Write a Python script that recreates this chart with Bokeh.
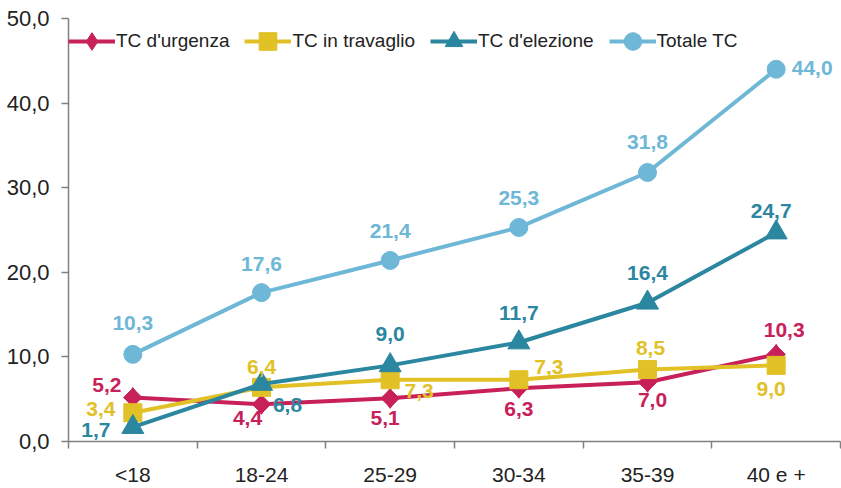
import math
from bokeh.plotting import figure
from bokeh.models import (Range1d, FixedTicker, CustomJSTickFormatter, Legend, LegendItem,
                          LabelSet, ColumnDataSource)
from bokeh.core.properties import value
from bokeh.embed import file_html
from bokeh.resources import INLINE

# ---- data ----
categories = ["<18", "18-24", "25-29", "30-34", "35-39", "40 e +"]
urgenza = [5.2, 4.4, 5.1, 6.3, 7.0, 10.3]
travaglio = [3.4, 6.4, 7.3, 7.3, 8.5, 9.0]
elezione = [1.7, 6.8, 9.0, 11.7, 16.4, 24.7]
totale = [10.3, 17.6, 21.4, 25.3, 31.8, 44.0]
y_ticks = [0, 10, 20, 30, 40, 50]

# ---- styles: label offsets in pixels (dx, dy up) ----
off_urgenza = [(-26, 13), (-14, -14), (-5, -20), (0, -21), (5, -18), (8, 24)]
off_travaglio = [(-32, 4), (0, 20), (29, -11), (30, 13), (3, 22), (-5, -24)]
off_elezione = [(-37, -3), (26, -21), (0, 31), (0, 30), (0, 30), (-5, 22)]
off_totale = [(0, 31), (0, 29), (0, 29), (0, 29), (0, 30), (36, 1)]

RED = "#C8215A"
YELLOW = "#E1C126"
TEAL = "#2B869F"
LBLUE = "#6FB7D7"
FONT = "Liberation Sans"

n = len(categories)
xs = [i + 0.5 for i in range(n)]

p = figure(width=841, height=488, output_backend="svg", toolbar_location=None,
           x_range=Range1d(0, n), y_range=Range1d(0, 50),
           min_border_left=68, min_border_right=1, min_border_top=18, min_border_bottom=45)
p.outline_line_color = None
p.xgrid.visible = False
p.ygrid.visible = False
p.background_fill_color = "white"
p.border_fill_color = "white"

AX = "#808080"
# x axis
xa = p.xaxis[0]
xa.ticker = FixedTicker(ticks=xs, minor_ticks=list(range(n + 1)))
xa.formatter = CustomJSTickFormatter(args=dict(labels=categories),
                                     code="return labels[Math.floor(tick)];")
xa.major_tick_line_color = None
xa.major_tick_out = 0
xa.major_tick_in = 0
xa.minor_tick_out = 7
xa.minor_tick_in = 0
xa.minor_tick_line_color = AX
xa.minor_tick_line_width = 1.5
xa.axis_line_color = AX
xa.axis_line_width = 1.5
xa.major_label_text_font = FONT
xa.major_label_text_font_size = "21px"
xa.major_label_text_color = "#222222"
xa.major_label_standoff = 14

# y axis
ya = p.yaxis[0]
ya.ticker = FixedTicker(ticks=y_ticks)
ya.formatter = CustomJSTickFormatter(code="return tick.toFixed(1).replace('.', ',');")
ya.major_tick_out = 7
ya.major_tick_in = 0
ya.minor_tick_line_color = None
ya.major_tick_line_color = AX
ya.major_tick_line_width = 1.5
ya.axis_line_color = AX
ya.axis_line_width = 1.5
ya.major_label_text_font = FONT
ya.major_label_text_font_size = "22px"
ya.major_label_text_color = "#222222"
ya.major_label_standoff = 12

series = [
    ("TC d'urgenza", urgenza, RED, "diamond", 20, off_urgenza),
    ("TC in travaglio", travaglio, YELLOW, "square", 18, off_travaglio),
    ("TC d'elezione", elezione, TEAL, "triangle", 22, off_elezione),
    ("Totale TC", totale, LBLUE, "circle", 18, off_totale),
]

items = []
for name, vals, col, marker, size, offs in series:
    src = ColumnDataSource(dict(x=xs, y=vals,
                                txt=[f"{v:.1f}".replace(".", ",") for v in vals],
                                dx=[o[0] for o in offs], dy=[o[1] for o in offs]))
    lr = p.line("x", "y", source=src, line_color=col, line_width=4)
    sr = p.scatter("x", "y", source=src, marker=marker, size=size,
                   fill_color=col, line_color=col)
    if marker == "diamond":
        # widen the diamond (rotated square underneath the same points)
        p.scatter("x", "y", source=src, marker="square", size=13, angle=math.pi / 4,
                  fill_color=col, line_color=col)
    lbl = LabelSet(x="x", y="y", text="txt", source=src, x_offset="dx", y_offset="dy",
                   text_align="center", text_baseline="middle", text_font=value(FONT),
                   text_font_size="21px", text_font_style="bold", text_color=col)
    p.add_layout(lbl)
    items.append(LegendItem(label=name, renderers=[lr, sr]))

legend = Legend(items=items, orientation="horizontal", location=(0, 378),
                glyph_width=47, glyph_height=44, label_height=44,
                label_text_font=FONT, label_text_font_size="19px",
                label_text_color="#222222", label_standoff=1, spacing=15,
                padding=0, margin=0, border_line_color=None,
                background_fill_alpha=0)
p.add_layout(legend)

open("out.html", "w").write(file_html(p, INLINE))
